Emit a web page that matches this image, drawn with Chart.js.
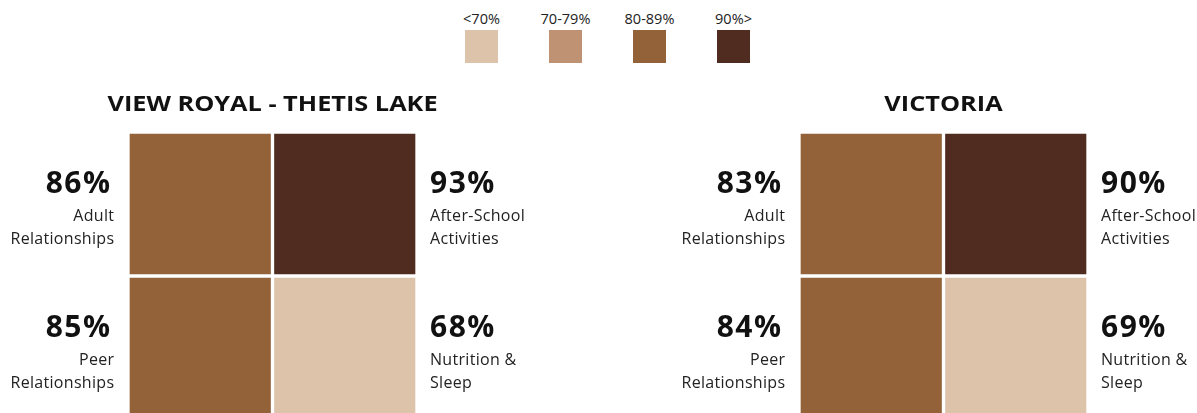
<!DOCTYPE html>
<html>
<head>
<meta charset="utf-8">
<script src="https://cdn.jsdelivr.net/npm/chart.js@4.4.0/dist/chart.umd.min.js"></script>
<style>
  html, body { margin: 0; padding: 0; background: #fff; overflow: hidden; }
  body { width: 1197px; height: 413px; position: relative; font-family: "Open Sans", sans-serif; }
  .panel { position: absolute; top: 0; }
  #legend { position: absolute; top: 0; left: 0; width: 1197px; }
  .lg-item { position: absolute; width: 70px; text-align: center; }
  .lg-item span { display: block; font-size: 14.5px; color: #222; line-height: 18px; margin-top: 10px; }
  .lg-item div { width: 33px; height: 33px; margin: 2px auto 0; }
</style>
</head>
<body>
<div id="legend"></div>
<div class="panel" style="left:0"><canvas id="chartA" width="545" height="420"></canvas></div>
<div class="panel" style="left:671px"><canvas id="chartB" width="545" height="420"></canvas></div>

<script>
// Data
const regions = ["VIEW ROYAL - THETIS LAKE", "VICTORIA"];
// order: top-left, top-right, bottom-left, bottom-right
const categories = [
  ["Adult", "Relationships"],
  ["After-School", "Activities"],
  ["Peer", "Relationships"],
  ["Nutrition &", "Sleep"]
];
const viewRoyal = [86, 93, 85, 68];
const victoria = [83, 90, 84, 69];
const bins = ["<70%", "70-79%", "80-89%", "90%>"];
const binColors = ["#dec3ab", "#be9273", "#946238", "#502c20"];

function colorFor(v) {
  if (v < 70) return binColors[0];
  if (v < 80) return binColors[1];
  if (v < 90) return binColors[2];
  return binColors[3];
}

// Legend (HTML)
const legend = document.getElementById("legend");
bins.forEach((b, i) => {
  const item = document.createElement("div");
  item.className = "lg-item";
  item.style.left = (446.5 + i * 84) + "px";
  item.innerHTML = `<span>${b}</span><div style="background:${binColors[i]}"></div>`;
  legend.appendChild(item);
});

// Labels + title drawn next to each cell
const cellLabels = {
  id: "cellLabels",
  afterDraw(chart, args, opts) {
    const ctx = chart.ctx;
    const area = chart.chartArea;
    const values = opts.values;
    ctx.save();
    ctx.fillStyle = "#111";
    ctx.textBaseline = "middle";
    ctx.textAlign = "center";
    // title, slightly widened
    ctx.save();
    ctx.translate((area.left + area.right) / 2, 105);
    ctx.scale(1.15, 1);
    ctx.font = "bold 22px 'Open Sans'";
    ctx.fillText(opts.title, 0, 0);
    ctx.restore();

    chart.data.datasets.forEach((ds, di) => {
      chart.getDatasetMeta(di).data.forEach((bar, ci) => {
        const idx = di * 2 + ci;
        const cy = (bar.y + bar.base) / 2;
        const left = ci === 0;
        const x = left ? bar.x - bar.width / 2 - 14 : bar.x + bar.width / 2 + 13;
        ctx.textAlign = left ? "right" : "left";
        ctx.fillStyle = "#111";
        ctx.font = "bold 30px 'Open Sans'";
        ctx.letterSpacing = "1.5px";
        ctx.fillText(values[idx] + "%", left ? x - 2.5 : x, cy - 20);
        ctx.fillStyle = "#222";
        ctx.font = "16px 'Open Sans'";
        ctx.letterSpacing = "0.3px";
        ctx.fillText(categories[idx][0], left ? x + 0.3 : x, cy + 12);
        ctx.fillText(categories[idx][1], left ? x + 0.3 : x, cy + 35);
      });
    });
    ctx.restore();
  }
};

function makePanel(id, title, values) {
  new Chart(document.getElementById(id), {
    type: "bar",
    data: {
      labels: ["left", "right"],
      datasets: [
        { data: [[1, 2], [1, 2]], backgroundColor: values.slice(0, 2).map(colorFor) },
        { data: [[0, 1], [0, 1]], backgroundColor: values.slice(2, 4).map(colorFor) }
      ]
    },
    options: {
      responsive: false,
      animation: false,
      layout: { padding: { left: 128, right: 128, top: 132, bottom: 0 } },
      datasets: {
        bar: {
          grouped: false,
          barPercentage: 1,
          categoryPercentage: 1,
          borderWidth: 2,
          borderColor: "#ffffff",
          borderSkipped: false
        }
      },
      scales: {
        x: { display: false },
        y: { display: false, min: 0, max: 2 }
      },
      plugins: {
        legend: { display: false },
        tooltip: { enabled: false },
        cellLabels: { title: title, values: values }
      }
    },
    plugins: [cellLabels]
  });
}

makePanel("chartA", regions[0], viewRoyal);
makePanel("chartB", regions[1], victoria);
</script>
</body>
</html>
